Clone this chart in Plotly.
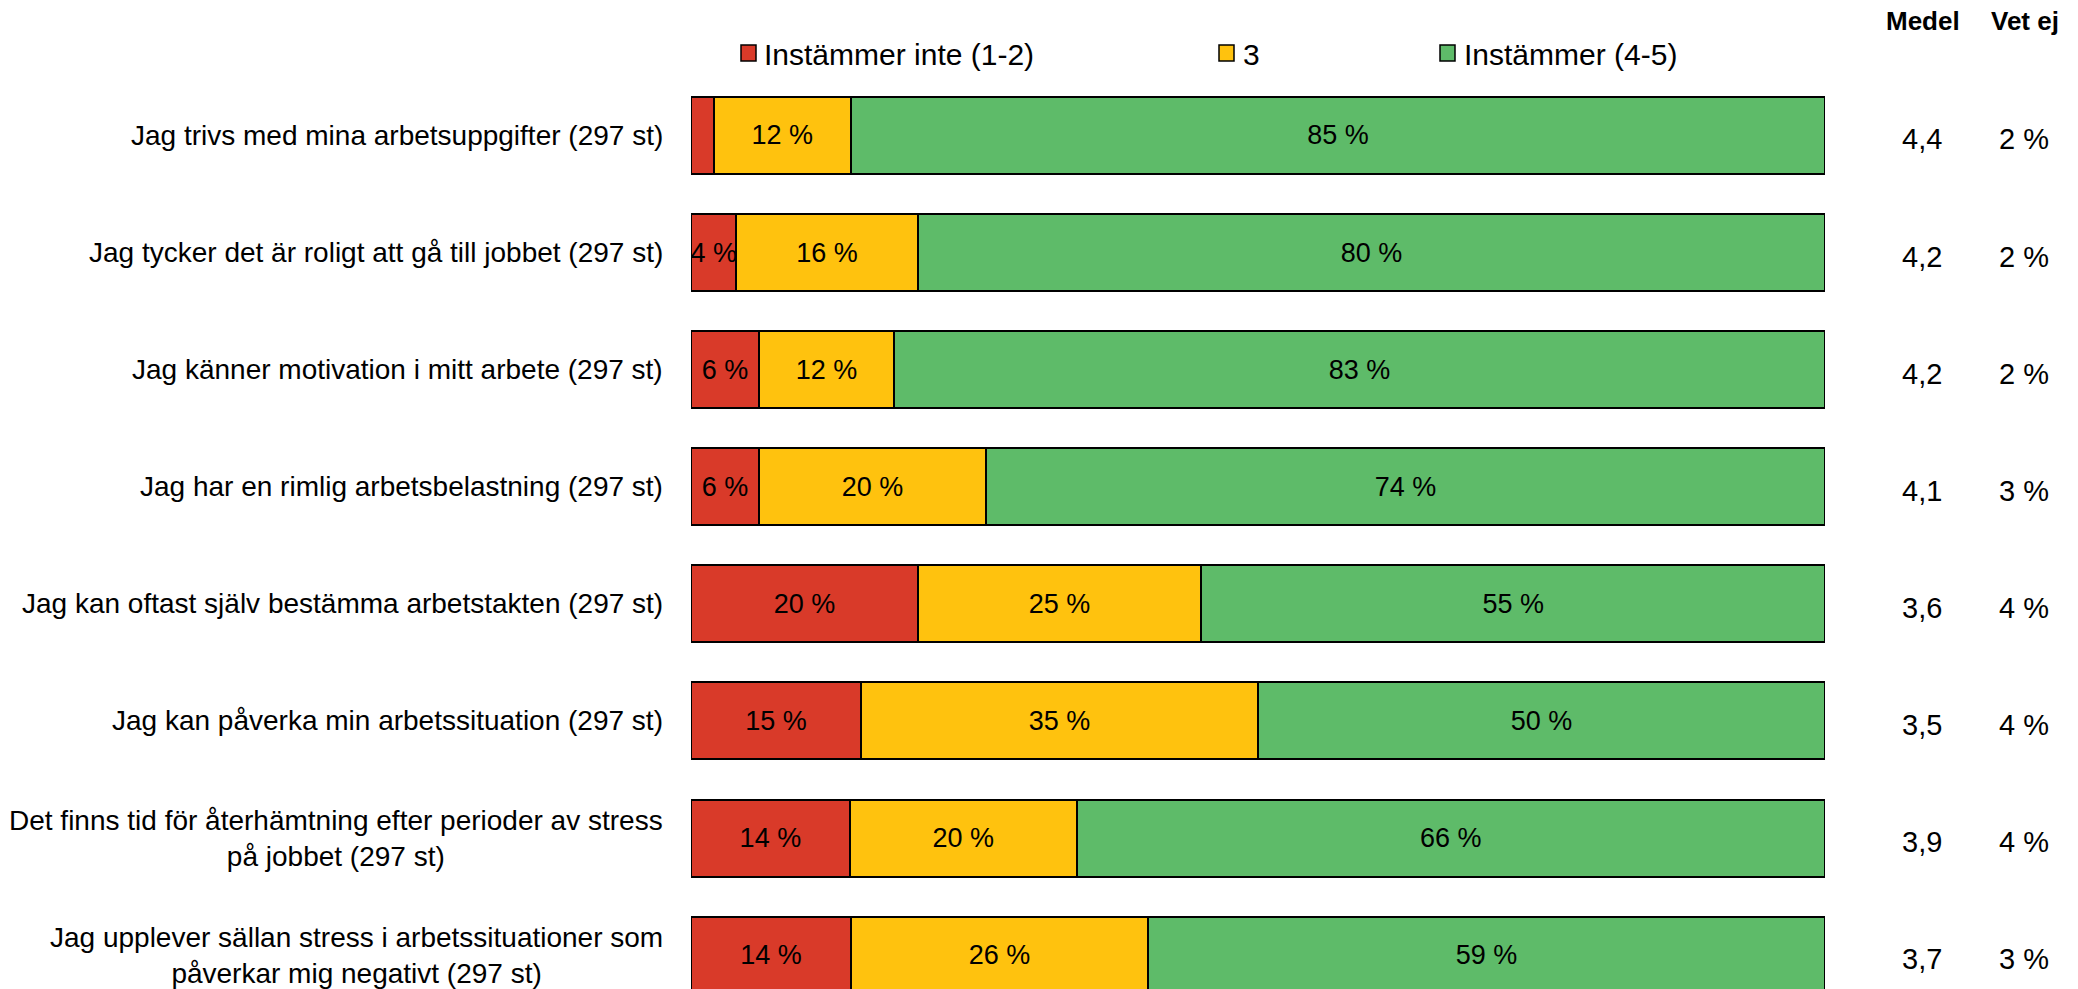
import plotly.graph_objects as go

# ---- data ----
questions = [
    "Jag trivs med mina arbetsuppgifter (297 st)",
    "Jag tycker det är roligt att gå till jobbet (297 st)",
    "Jag känner motivation i mitt arbete (297 st)",
    "Jag har en rimlig arbetsbelastning (297 st)",
    "Jag kan oftast själv bestämma arbetstakten (297 st)",
    "Jag kan påverka min arbetssituation (297 st)",
    "Det finns tid för återhämtning efter perioder av stress<br>på jobbet (297 st)",
    "Jag upplever sällan stress i arbetssituationer som<br>påverkar mig negativt (297 st)",
]
series_names = ["Instämmer inte (1-2)", "3", "Instämmer (4-5)"]
# bar lengths (share of answers, %)
disagree = [2.0, 4.0, 6.0, 6.0, 20.0, 15.0, 14.0, 14.1]
neutral = [12.1, 16.0, 11.9, 20.0, 25.0, 35.0, 20.0, 26.2]
agree = [85.9, 80.0, 82.1, 74.0, 55.0, 50.0, 66.0, 59.7]
# printed labels
disagree_lbl = ["", "4 %", "6 %", "6 %", "20 %", "15 %", "14 %", "14 %"]
neutral_lbl = ["12 %", "16 %", "12 %", "20 %", "25 %", "35 %", "20 %", "26 %"]
agree_lbl = ["85 %", "80 %", "83 %", "74 %", "55 %", "50 %", "66 %", "59 %"]
medel = [4.4, 4.2, 4.2, 4.1, 3.6, 3.5, 3.9, 3.7]
vet_ej = [2, 2, 2, 3, 4, 4, 4, 3]

colors = ["#D93A29", "#FFC20E", "#5EBB69"]
FONT = "Liberation Sans, Arial, sans-serif"
W, H = 2078, 989
L, R = 691, 1825

fig = go.Figure()
for vals, lbls, name, col in zip([disagree, neutral, agree],
                                 [disagree_lbl, neutral_lbl, agree_lbl],
                                 series_names, colors):
    fig.add_trace(go.Bar(
        y=questions, x=vals, name=name, orientation="h",
        marker=dict(color=col, line=dict(color="black", width=2)),
        text=lbls, textposition="inside", insidetextanchor="middle",
        textangle=0, textfont=dict(family=FONT, size=27, color="black"),
        hoverinfo="skip",
    ))

def px_x(p):
    return (p - L) / (R - L)

def px_y(p):
    return 1 - p / H

annotations = []
# row labels
for q in questions:
    annotations.append(dict(x=px_x(665), xref="paper", y=q, yref="y",
                            text=q, xanchor="right", yanchor="middle",
                            align="center", showarrow=False,
                            font=dict(family=FONT, size=28, color="black")))
# right columns
for q, m, v in zip(questions, medel, vet_ej):
    annotations.append(dict(x=px_x(1922), xref="paper", y=q, yref="y",
                            text=f"{m:.1f}".replace(".", ","), xanchor="center",
                            yanchor="middle", showarrow=False, yshift=-4,
                            font=dict(family=FONT, size=29, color="black")))
    annotations.append(dict(x=px_x(2024), xref="paper", y=q, yref="y",
                            text=f"{v} %", xanchor="center",
                            yanchor="middle", showarrow=False, yshift=-4,
                            font=dict(family=FONT, size=29, color="black")))
# headers
for t, cx in [("<b>Medel</b>", 1923), ("<b>Vet ej</b>", 2025)]:
    annotations.append(dict(x=px_x(cx), xref="paper", y=px_y(21), yref="paper",
                            text=t, xanchor="center", yanchor="middle",
                            showarrow=False,
                            font=dict(family=FONT, size=26, color="black")))

# legend (manual, irregular spacing)
shapes = []
leg_sq = [741, 1219, 1440]
leg_tx = [762, 1241, 1462]
for name, col, sx, tx in zip(series_names, colors, leg_sq, leg_tx):
    shapes.append(dict(type="rect", xref="paper", yref="paper",
                       x0=px_x(sx), x1=px_x(sx + 15),
                       y0=px_y(61), y1=px_y(45),
                       fillcolor=col, line=dict(color="black", width=1.5)))
    annotations.append(dict(x=px_x(tx), xref="paper", y=px_y(54), yref="paper",
                            text=name, xanchor="left", yanchor="middle",
                            showarrow=False,
                            font=dict(family=FONT, size=30, color="black")))

fig.update_layout(
    width=W, height=H, autosize=False,
    margin=dict(l=L, r=W - R, t=0, b=0, pad=0),
    paper_bgcolor="white", plot_bgcolor="white",
    barmode="stack", bargap=0.342, showlegend=False,
    uniformtext=dict(minsize=27, mode="show"),
    xaxis=dict(range=[0, 100], visible=False, fixedrange=True),
    yaxis=dict(type="category", categoryorder="array", categoryarray=questions,
               range=[7.289, -1.157], visible=False, fixedrange=True),
    annotations=annotations, shapes=shapes,
    font=dict(family=FONT),
)

fig.write_html("out.html", config={"displayModeBar": False},
               post_script="document.body.style.margin='0';")
